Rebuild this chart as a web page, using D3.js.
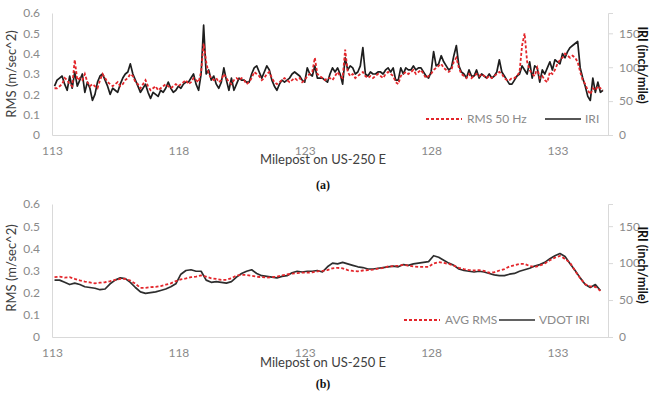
<!DOCTYPE html>
<html><head><meta charset="utf-8">
<script src="https://cdn.jsdelivr.net/npm/d3@7"></script>
<style>body{margin:0;background:#fff}svg{display:block}</style>
</head><body>
<svg id="c" width="650" height="399"></svg>
<script>
// ---------- DATA ----------
// Panel (a): readings every 0.1 mile starting at milepost 113.1
const milesA_start = 113.1, milesA_step = 0.1;
const rms50 = [
.23,.23,.24,.25,.28,.27,.25,.24,.37,.27,
.28,.27,.30,.26,.24,.25,.24,.23,.27,.30,
.28,.26,.25,.24,.25,.26,.24,.25,.27,.28,
.30,.29,.26,.25,.23,.25,.27,.24,.22,.23,
.24,.22,.23,.24,.25,.24,.23,.24,.25,.24,
.25,.26,.27,.25,.26,.28,.27,.26,.31,.45,
.36,.30,.28,.27,.28,.26,.27,.30,.28,.26,
.25,.27,.28,.27,.28,.27,.25,.26,.28,.31,
.30,.29,.27,.28,.30,.31,.28,.26,.25,.26,
.27,.28,.27,.26,.27,.28,.27,.28,.26,.27,
.29,.30,.31,.38,.30,.29,.28,.27,.28,.28,
.27,.29,.31,.29,.28,.42,.31,.29,.30,.28,
.29,.30,.31,.29,.28,.29,.28,.29,.30,.29,
.28,.30,.31,.30,.29,.26,.25,.29,.30,.31,
.30,.31,.32,.30,.31,.32,.30,.28,.29,.30,
.32,.33,.34,.35,.33,.32,.31,.32,.36,.38,
.33,.30,.29,.28,.30,.28,.29,.30,.29,.30,
.29,.28,.29,.28,.29,.30,.31,.30,.28,.27,
.27,.28,.28,.29,.31,.44,.50,.36,.32,.30,
.29,.33,.28,.29,.27,.26,.31,.30,.32,.35,
.37,.38,.40,.39,.38,.39,.38,.36,.31,.27,
.25,.22,.20,.23,.22,.24,.23,.22];
const iri = [
72,81,84,87,75,66,87,69,93,72,
81,90,63,78,69,51,60,78,87,90,
81,72,60,69,66,63,75,84,90,93,
105,90,81,72,63,69,75,63,54,63,
60,57,66,63,69,78,69,63,66,72,
69,75,78,78,84,90,75,66,90,162,
90,96,81,87,75,69,78,99,81,66,
84,66,75,84,81,81,78,78,90,99,
102,93,84,93,102,96,81,72,66,75,
81,78,81,84,90,93,90,87,81,78,
99,90,87,102,84,84,84,81,78,90,
99,93,99,90,75,114,96,102,99,90,
93,102,129,90,87,93,90,90,93,93,
90,96,99,93,99,81,81,99,90,99,
96,96,102,96,99,99,93,87,84,93,
123,102,105,117,108,102,96,99,117,132,
102,93,90,84,96,87,87,96,84,90,
87,84,90,84,87,93,111,93,87,81,
75,75,81,87,90,102,96,90,108,84,
102,99,78,96,90,99,108,96,111,108,
105,120,114,123,129,132,135,138,99,84,
72,57,51,84,63,78,63,66];

// Panel (b): readings every 0.2 mile starting at milepost 113.1
const milesB_start = 113.1, milesB_step = 0.2;
const avgRms = [
.270,.272,.268,.270,.262,.255,.250,.246,.242,.245,
.247,.252,.258,.262,.262,.255,.240,.222,.222,.225,
.226,.230,.236,.242,.252,.260,.264,.270,.272,.278,
.272,.265,.262,.258,.258,.265,.278,.280,.280,.276,
.272,.270,.268,.270,.272,.278,.282,.286,.288,.290,
.290,.292,.296,.298,.302,.310,.312,.310,.302,.298,
.296,.300,.302,.304,.308,.312,.318,.320,.322,.325,
.322,.318,.316,.316,.316,.332,.338,.334,.330,.322,
.312,.306,.302,.300,.302,.298,.290,.292,.300,.306,
.318,.324,.330,.330,.320,.316,.322,.332,.346,.358,
.366,.352,.335,.298,.265,.238,.228,.226,.208];
const vdotIri = [
77,77,74,71,73,71,68,67,66,64,
65,72,77,80,79,74,67,61,59,60,
61,63,65,68,72,85,90,91,89,89,
77,74,75,74,73,75,81,86,89,91,
86,83,82,81,80,82,83,87,89,88,
89,89,90,88,95,100,99,101,99,97,
95,94,92,92,93,94,95,96,95,98,
97,99,100,101,102,110,108,104,100,97,
92,90,89,88,89,88,86,84,83,83,
85,86,89,91,93,96,98,101,106,110,
113,109,99,90,80,71,67,71,63];

const xTicks = [113,118,123,128,133];
const rmsTicks = [0,0.1,0.2,0.3,0.4,0.5,0.6];
const iriTicks = [0,50,100,150];

// ---------- DRAW ----------
const svg = d3.select("#c");
const FONT = "Lato, 'Open Sans', sans-serif";
const gridGray = "#d9d9d9", tickGray = "#8a8a8a", titleGray = "#404040";
const RED = "#e3262b", BLACK = "#1e1e1e";

function panel(o){
  const x = d3.scaleLinear().domain([113,135]).range([52,608]);
  const yL = d3.scaleLinear().domain([0,0.6]).range([o.y0,o.y1]);
  const yR = d3.scaleLinear().domain([0,180]).range([o.y0,o.y1]);
  const g = svg.append("g");

  const ax = g.append("g").attr("transform","translate(52,0)")
    .call(d3.axisLeft(yL).tickValues(rmsTicks).tickSize(0).tickPadding(12).tickFormat(d=>d===0?"0":d3.format(".1f")(d)));
  ax.select(".domain").attr("stroke",gridGray);
  ax.selectAll("text").attr("fill",tickGray).style("font",`12px ${FONT}`);

  const ar = g.append("g").attr("transform","translate(608,0)")
    .call(d3.axisRight(yR).tickValues(iriTicks).tickSizeOuter(0).tickSize(5).tickPadding(6));
  ar.select(".domain").attr("stroke",gridGray);
  ar.selectAll("line").attr("stroke",gridGray);
  ar.selectAll("text").attr("fill",tickGray).style("font",`12px ${FONT}`);

  const ab = g.append("g").attr("transform",`translate(0,${o.y0})`)
    .call(d3.axisBottom(x).tickValues(xTicks).tickSize(0).tickSizeOuter(0).tickPadding(11).tickFormat(d3.format("d")));
  ab.select(".domain").attr("stroke",gridGray);
  ab.selectAll("text").attr("fill",tickGray).style("font",`12px ${FONT}`);

  const lR = d3.line().x((d,i)=>x(o.start + i*o.step)).y(d=>yL(d));
  const lB = d3.line().x((d,i)=>x(o.start + i*o.step)).y(d=>yR(d));
  g.append("path").datum(o.iri).attr("d",lB).attr("fill","none")
    .attr("stroke",o.blackColor).attr("stroke-width",1.7).attr("stroke-linejoin","round");
  g.append("path").datum(o.rms).attr("d",lR).attr("fill","none")
    .attr("stroke",RED).attr("stroke-width",1.8).attr("stroke-dasharray","3,2");

  g.append("text").attr("transform",`translate(16,${o.ltY}) rotate(-90)`)
    .attr("text-anchor","middle").attr("fill",titleGray).style("font",`13px ${FONT}`).text("RMS (m/sec^2)");
  g.append("text").attr("transform",`translate(638,${o.rtY}) rotate(90)`)
    .attr("text-anchor","middle").attr("fill","#111").style("font",`bold 12.5px ${FONT}`).text("IRI (inch/mile)");
  g.append("text").attr("x",323).attr("y",o.xtY).attr("text-anchor","middle")
    .attr("fill",titleGray).style("font",`13px ${FONT}`).text("Milepost on US-250 E");
  g.append("text").attr("x",323).attr("y",o.capY).attr("text-anchor","middle")
    .attr("fill","#111").style("font",`bold 12px 'Liberation Serif', serif`).text(o.cap);

  const L = g.append("g").attr("transform",`translate(0,${o.legY})`);
  L.append("line").attr("x1",o.leg[0]).attr("x2",o.leg[0]+36).attr("stroke",RED)
    .attr("stroke-width",1.8).attr("stroke-dasharray","3,2");
  L.append("text").attr("x",o.leg[0]+41).attr("y",4).attr("fill",tickGray)
    .style("font",`12px ${FONT}`).text(o.names[0]);
  L.append("line").attr("x1",o.leg[1]).attr("x2",o.leg[1]+36).attr("stroke",o.blackColor)
    .attr("stroke-width",1.6);
  L.append("text").attr("x",o.leg[1]+40).attr("y",4).attr("fill",tickGray)
    .style("font",`12px ${FONT}`).text(o.names[1]);
}

panel({y0:135,y1:13,start:milesA_start,step:milesA_step,rms:rms50,iri:iri,blackColor:BLACK,
  ltY:74,rtY:65,xtY:164,capY:189,cap:"(a)",legY:119,leg:[426,545],names:["RMS 50 Hz","IRI"]});
panel({y0:337,y1:204,start:milesB_start,step:milesB_step,rms:avgRms,iri:vdotIri,blackColor:"#2e2e2e",
  ltY:268,rtY:265,xtY:367,capY:388,cap:"(b)",legY:320,leg:[404,499],names:["AVG RMS","VDOT IRI"]});
</script>
</body></html>
